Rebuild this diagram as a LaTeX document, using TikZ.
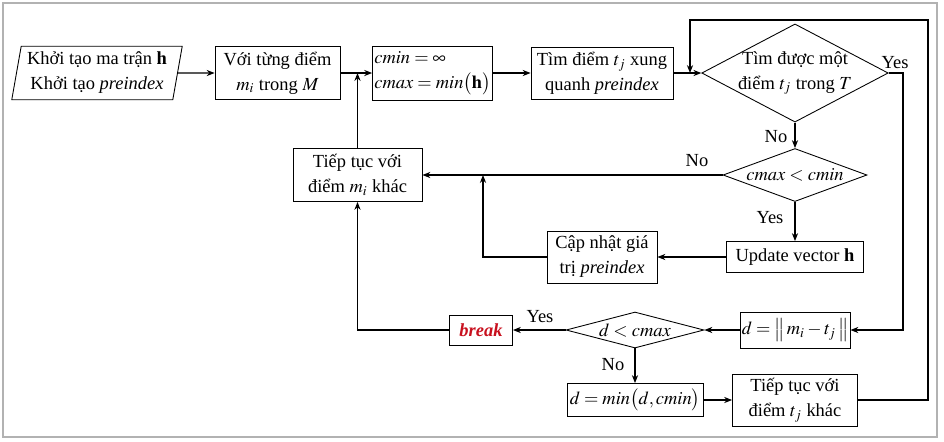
\documentclass[tikz,border=0pt]{standalone}
\usepackage{mathptmx}
\usepackage{fontspec}
\setmainfont{Liberation Serif}
\usetikzlibrary{shapes.geometric,arrows.meta}
\definecolor{breakred}{RGB}{200,16,30}

\begin{document}
\begin{tikzpicture}[x=0.02cm, y=-0.02cm, font=\fontsize{10.5}{14.2}\selectfont]
\useasboundingbox (0,0) rectangle (944,441);
\draw[gray!60, line width=0.8pt] (3,3) rectangle (937,437);

\coordinate (J1) at (357.5,73);
\coordinate (J2) at (690,73);
\coordinate (J3) at (483,175);
\coordinate (LoopR) at (928,20);
\coordinate (LoopL) at (690,20);
\coordinate (YesR) at (903,73);


\tikzset{BoxStyle/.style = {draw, rectangle, line width=0.5pt, inner sep=1pt, align=center} }
\tikzset{DecisionStyle/.style = {draw, diamond, line width=0.5pt, inner sep=0pt, align=center} }

\node[draw, trapezium, trapezium left angle=80, trapezium right angle=100, trapezium stretches body,
 minimum width=3.38cm, minimum height=1.06cm, line width=0.5pt, align=center] (init) at (97,73)
 {Khởi tạo ma trận \textbf{h}\\Khởi tạo \textit{preindex}};
\node[BoxStyle, minimum width=2.5cm, minimum height=1.06cm] (each) at (277.5,73) {Với từng điểm\\$m_i$ trong $M$};
\node[BoxStyle, minimum width=2.3cm, minimum height=1.08cm, align=left] (cvals) at (432.5,73) {$cmin=\infty$\\$cmax=min\bigl(\mathbf{h}\bigr)$};
\node[BoxStyle, minimum width=2.84cm, minimum height=1.04cm] (findt) at (602,73) {Tìm điểm $t_j$ xung\\quanh \textit{preindex}};
\node[DecisionStyle, aspect=1.9, inner xsep=-0.1cm, minimum width=3.58cm, minimum height=1.86cm] (found) at (795,73) {Tìm được một\\điểm $t_j$ trong $T$};
\node[DecisionStyle, aspect=2.7, minimum width=2.88cm, minimum height=1.06cm] (cmp) at (795,175) {$cmax<cmin$};
\node[BoxStyle, minimum width=2.74cm, minimum height=0.62cm] (upd) at (795,257) {Update vector \textbf{h}};
\node[BoxStyle, minimum width=2.58cm, minimum height=1.06cm] (nextm) at (357.5,175) {Tiếp tục với\\điểm $m_i$ khác};
\node[BoxStyle, minimum width=2.2cm, minimum height=1.04cm] (prei) at (602,257) {Cập nhật giá\\trị \textit{preindex}};
\node[BoxStyle, minimum width=1.94cm, minimum height=0.72cm] (dist) at (795,330) {$d=\bigl\|\,m_i - t_j\,\bigr\|$};
\node[DecisionStyle, aspect=3.8, minimum width=2.76cm, minimum height=0.72cm] (dlt) at (635,330) {$d<cmax$};
\node[BoxStyle, minimum width=1.26cm, minimum height=0.6cm] (brk) at (481,330) {\textcolor{breakred}{\textbf{\textit{break}}}};
\node[BoxStyle, minimum width=2.72cm, minimum height=0.66cm] (dmin) at (635,400) {$d=min\bigl(d,cmin\bigr)$};
\node[BoxStyle, minimum width=2.5cm, minimum height=1.04cm] (nextt) at (795,400) {Tiếp tục với\\điểm $t_j$ khác};


\tikzset{ArrowStyle/.style = {line width=0.7pt, -{Stealth[length=4.5pt, width=3.5pt]}} }

\draw[ArrowStyle] (init) -- (each);
\draw[ArrowStyle] (each) -- (cvals);
\draw[ArrowStyle] (cvals) -- (findt);
\draw[ArrowStyle] (findt) -- (found);
\draw[ArrowStyle] (nextt.east) -| (LoopR) -- (LoopL) -- (J2);
\draw[ArrowStyle] (found.east) -- (YesR) |- (dist.east);
\draw[ArrowStyle] (found) -- (cmp);
\draw[ArrowStyle] (cmp) -- (nextm);
\draw[ArrowStyle] (cmp) -- (upd);
\draw[ArrowStyle] (upd) -- (prei);
\draw[ArrowStyle] (prei.west) -| (J3);
\draw[ArrowStyle] (dist) -- (dlt);
\draw[ArrowStyle] (dlt) -- (brk);
\draw[ArrowStyle] (brk.west) -| (nextm.south);
\draw[ArrowStyle] (nextm) -- (J1);
\draw[ArrowStyle] (dlt) -- (dmin);
\draw[ArrowStyle] (dmin) -- (nextt);


\node (yesFound) at (895,63) {Yes};
\node (noFound) at (776,137) {No};
\node (noCmp) at (697,161) {No};
\node (yesCmp) at (770,218) {Yes};
\node (yesDlt) at (540,317) {Yes};
\node (noDlt) at (613,365) {No};

\end{tikzpicture}
\end{document}
